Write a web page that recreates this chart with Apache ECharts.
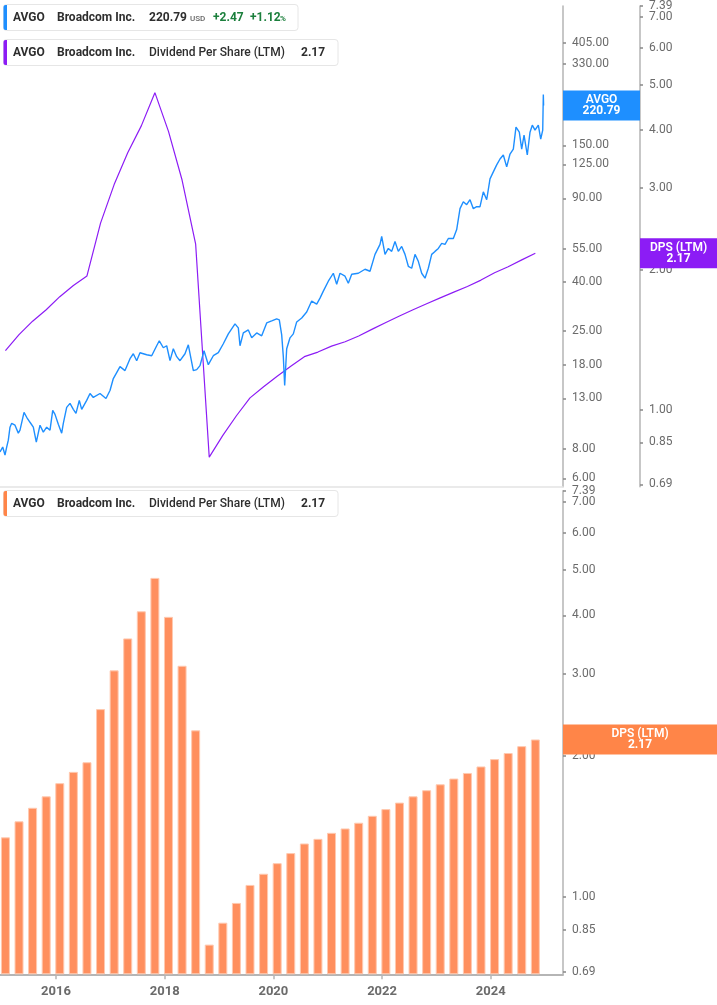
<!DOCTYPE html>
<html>
<head>
<meta charset="utf-8">
<script src="https://cdn.jsdelivr.net/npm/echarts@6/dist/echarts.min.js"></script>
<style>
html,body{margin:0;padding:0;background:#fff;}
#c{width:717px;height:1005px;}
</style>
</head>
<body>
<div id="c"></div>
<script>
// ---------- DATA ----------
const ticker = 'AVGO';
const company = 'Broadcom Inc.';
const priceChange = '+2.47';
const priceChangePct = '+1.12';
const dpsName = 'Dividend Per Share (LTM)';

const priceYears = [2014.970,2015.020,2015.062,2015.093,2015.123,2015.154,2015.185,2015.246,2015.307,2015.338,
2015.412,2015.461,2015.522,2015.583,2015.638,2015.706,2015.767,2015.829,2015.890,2015.940,
2015.982,2016.043,2016.105,2016.135,2016.197,2016.258,2016.319,2016.368,2016.429,2016.473,
2016.565,2016.626,2016.687,2016.810,2016.920,2016.994,2017.055,2017.117,2017.178,2017.270,
2017.362,2017.423,2017.485,2017.546,2017.669,2017.761,2017.853,2017.901,2017.975,2018.037,
2018.098,2018.159,2018.221,2018.282,2018.374,2018.435,2018.527,2018.589,2018.650,2018.724,
2018.803,2018.895,2018.987,2019.079,2019.171,2019.294,2019.355,2019.386,2019.447,2019.539,
2019.601,2019.693,2019.785,2019.877,2019.969,2020.061,2020.109,2020.153,2020.183,2020.208,
2020.245,2020.306,2020.367,2020.429,2020.521,2020.613,2020.705,2020.797,2020.858,2020.919,
2021.011,2021.103,2021.165,2021.226,2021.318,2021.379,2021.441,2021.563,2021.686,2021.778,
2021.870,2021.962,2021.993,2022.054,2022.115,2022.177,2022.238,2022.299,2022.361,2022.422,
2022.483,2022.545,2022.606,2022.667,2022.729,2022.790,2022.851,2022.913,2022.974,2023.035,
2023.097,2023.158,2023.219,2023.311,2023.373,2023.434,2023.495,2023.557,2023.618,2023.679,
2023.741,2023.802,2023.863,2023.925,2023.986,2024.047,2024.109,2024.170,2024.231,2024.293,
2024.354,2024.415,2024.464,2024.525,2024.569,2024.612,2024.672,2024.722,2024.764,2024.814,
2024.875,2024.919,2024.956,2024.967,2024.972];

const priceValues = [7.74,8.12,7.52,8.12,8.68,9.84,10.22,10.03,9.29,9.56,
11.36,10.83,10.32,9.84,8.52,10.03,9.38,9.84,9.56,11.58,
11.14,10.12,9.29,10.22,11.92,12.39,11.69,11.25,12.75,11.69,
12.75,13.63,13.12,13.63,12.99,14.03,15.75,16.69,17.67,17.01,
19.09,20.02,18.72,20.22,19.83,19.64,21.63,22.69,21.21,21.63,
18.72,21.01,19.46,18.72,20.02,21.83,17.01,17.17,17.84,20.61,
18.01,19.64,20.22,22.05,24.26,26.71,25.70,21.63,24.49,25.21,
23.35,24.49,23.80,26.97,27.49,28.03,27.76,24.03,19.46,14.73,
21.01,23.35,24.26,27.23,28.30,29.98,33.32,32.37,34.29,36.68,
40.37,43.60,39.22,43.60,42.37,39.60,43.19,43.60,45.31,44.45,
52.33,57.61,62.21,52.33,55.43,53.86,59.29,53.86,56.51,52.33,
46.64,45.75,52.33,48.93,43.60,41.56,45.75,52.33,53.86,55.43,
58.16,57.61,61.02,61.02,66.54,81.41,87.07,84.60,88.76,81.41,
82.99,82.99,95.85,88.76,108.6,116.2,124.3,131.6,136.8,121.9,
138.1,144.9,179.0,170.6,144.9,165.8,136.8,170.6,182.5,173.9,
182.5,159.5,173.9,245.7,220.79];

const dpsYears = [2015.07,2015.32,2015.57,2015.82,2016.07,2016.32,2016.57,2016.82,
2017.07,2017.32,2017.57,2017.82,2018.07,2018.32,2018.57,2018.82,
2019.07,2019.32,2019.57,2019.82,2020.07,2020.32,2020.57,2020.82,
2021.07,2021.32,2021.57,2021.82,2022.07,2022.32,2022.57,2022.82,
2023.07,2023.32,2023.57,2023.82,2024.07,2024.32,2024.57,2024.82];

const dpsValues = [1.34,1.45,1.55,1.64,1.75,1.85,1.94,2.52,
3.05,3.57,4.08,4.81,3.97,3.12,2.27,0.79,
0.88,0.97,1.06,1.12,1.18,1.24,1.30,1.33,
1.37,1.40,1.44,1.49,1.54,1.59,1.64,1.69,
1.74,1.79,1.84,1.90,1.97,2.03,2.10,2.17];

const priceTicks = [405, 330, 240, 150, 125, 90, 55, 40, 25, 18, 13, 8, 6];
const dpsTicks = [7.39, 7, 6, 5, 4, 3, 2, 1, 0.85, 0.69];
const dpsTopTick = [7.39];
const yearTicks = [2016, 2018, 2020, 2022, 2024];

// ---------- STYLE / SCALE SETUP ----------
const BLUE = '#1E8FFF', PURPLE = '#8C1CF5', ORANGE = '#FF8F5E', ORANGE_BOX = '#FF8548', GREEN = '#1b7f3c';
const FONT = 'Roboto, "Noto Sans", sans-serif';
const X_MIN = 2014.970, X_MAX = 2025.329;
// log scales expressed as shifted natural logs (so bars grow from the axis bottom)
const P_MIN = 1.711, P_MAX = 6.3595;
const D_MIN = -0.382, D_MAX = 2.0002;
const pv = v => Math.log(v) - P_MIN;
const dv = v => Math.log(v) - D_MIN;

const priceData = priceYears.map((t, i) => [t, pv(priceValues[i])]);
const dpsLineData = dpsYears.map((t, i) => [t, dv(dpsValues[i])]);
const dpsBarData = dpsYears.map((t, i) => [t, dv(dpsValues[i])]);

const axisGrey = '#b5b5b5';
const labelGrey = '#6b6b6b';

function yAxisCommon(tickVals, labelVals, toV, fromV, extra) {
  return Object.assign({
    type: 'value',
    position: 'right',
    axisLine: { show: true, lineStyle: { color: axisGrey, width: 1.5 } },
    axisTick: { show: true, customValues: tickVals.map(toV), length: 3, lineStyle: { color: '#888', width: 1.5 } },
    axisLabel: { customValues: labelVals.map(toV), formatter: v => fromV(v).toFixed(2), color: labelGrey, fontSize: 12, fontFamily: FONT, margin: 9, hideOverlap: false },
    splitLine: { show: false }
  }, extra);
}
const dpsMain = dpsTicks.filter(t => dpsTopTick.indexOf(t) < 0);
const dFrom = v => Math.exp(v + D_MIN);
// helper axis carrying only the top (max) label, so it is not dropped next to 7.00
function topLabelAxis(extra) {
  return yAxisCommon([], dpsTopTick, dv, dFrom, Object.assign({
    axisLine: { show: false }, axisTick: { show: false }
  }, extra));
}

const option = {
  animation: false,
  backgroundColor: '#fff',
  grid: [
    { left: 0, right: 154, top: 3, height: 483.7, containLabel: false },
    { left: 0, right: 154, top: 490.7, height: 483.6, containLabel: false }
  ],
  xAxis: [
    { gridIndex: 0, type: 'value', min: X_MIN, max: X_MAX,
      axisLine: { show: true, lineStyle: { color: '#e3e3e3', width: 1.5 } },
      axisTick: { show: false }, axisLabel: { show: false }, splitLine: { show: false } },
    { gridIndex: 1, type: 'value', min: X_MIN, max: X_MAX,
      axisLine: { show: true, lineStyle: { color: axisGrey, width: 2 } },
      axisTick: { show: true, customValues: yearTicks, length: 5, lineStyle: { color: axisGrey, width: 1.5 } },
      axisLabel: { customValues: yearTicks, formatter: v => String(Math.round(v)), color: labelGrey, fontSize: 13, fontWeight: 'bold', fontFamily: FONT, margin: 11 },
      splitLine: { show: false } }
  ],
  yAxis: [
    yAxisCommon(priceTicks, priceTicks, pv, v => Math.exp(v + P_MIN), { gridIndex: 0, min: 0, max: P_MAX - P_MIN }),
    yAxisCommon(dpsTicks, dpsMain, dv, dFrom, { gridIndex: 0, min: 0, max: D_MAX - D_MIN, offset: 77 }),
    yAxisCommon(dpsTicks, dpsMain, dv, dFrom, { gridIndex: 1, min: 0, max: D_MAX - D_MIN }),
    topLabelAxis({ gridIndex: 0, min: 0, max: D_MAX - D_MIN, offset: 77 }),
    topLabelAxis({ gridIndex: 1, min: 0, max: D_MAX - D_MIN })
  ],
  series: [
    { type: 'line', xAxisIndex: 0, yAxisIndex: 0, data: priceData, showSymbol: false, symbol: 'none',
      lineStyle: { color: BLUE, width: 1.4 }, z: 3 },
    { type: 'line', xAxisIndex: 0, yAxisIndex: 1, data: dpsLineData, showSymbol: false, symbol: 'none',
      lineStyle: { color: PURPLE, width: 1.2 }, z: 2 },
    { type: 'bar', xAxisIndex: 1, yAxisIndex: 2, data: dpsBarData, barWidth: 9,
      itemStyle: { color: ORANGE, borderColor: '#ffc9b0', borderWidth: 1 } }
  ]
};

const chart = echarts.init(document.getElementById('c'), null, { renderer: 'canvas', width: 717, height: 1005 });
chart.setOption(option);

// ---------- OVERLAY TEXT (legend boxes and last-value tags) ----------
const lastPrice = priceValues[priceValues.length - 1];
const lastDps = dpsValues[dpsValues.length - 1];
const yPrice = chart.convertToPixel({ yAxisIndex: 0 }, pv(lastPrice));
const yDpsTop = chart.convertToPixel({ yAxisIndex: 1 }, dv(lastDps));
const yDpsBot = chart.convertToPixel({ yAxisIndex: 2 }, dv(lastDps));

function txt(text, x, y, font, fill, align) {
  return { type: 'text', z: 100, style: { text: text, x: x, y: y, font: font, fill: fill, align: align || 'left', verticalAlign: 'middle' } };
}
function legendBox(y, w, color, items) {
  const els = [
    { type: 'rect', z: 99, shape: { x: 3.5, y: y, width: w, height: 26, r: 3 }, style: { fill: '#fff', stroke: '#e6e6e6', lineWidth: 1 } },
    { type: 'rect', z: 100, shape: { x: 3.5, y: y + 0.5, width: 3.5, height: 25, r: [2, 0, 0, 2] }, style: { fill: color } }
  ];
  return els.concat(items);
}
function tag(x, yc, w, color, l1, l2) {
  return [
    { type: 'rect', z: 100, shape: { x: x, y: yc - 15, width: w, height: 30 }, style: { fill: color } },
    txt(l1, x + w / 2, yc - 5.5, '600 12px ' + FONT, '#fff', 'center'),
    txt(l2, x + w / 2, yc + 5.5, '700 12px ' + FONT, '#fff', 'center')
  ];
}

const B = '700 12px ' + FONT;
const dark = '#2e2e2e';
let g = [];
g = g.concat(legendBox(4.5, 294.5, BLUE, [
  txt(ticker, 13, 17.7, B, dark),
  txt(company, 57, 17.7, B, dark),
  txt(lastPrice.toFixed(2), 149, 17.7, B, dark),
  txt('USD', 190, 18.7, '500 8px ' + FONT, '#666'),
  txt(priceChange, 213, 17.7, B, GREEN),
  txt(priceChangePct, 250, 17.7, B, GREEN),
  txt('%', 280, 18.7, '700 8px ' + FONT, GREEN)
]));
g = g.concat(legendBox(39.5, 334.5, PURPLE, [
  txt(ticker, 13, 52.7, B, dark),
  txt(company, 57, 52.7, B, dark),
  txt(dpsName, 149, 52.7, '500 12px ' + FONT, dark),
  txt(lastDps.toFixed(2), 301, 52.7, B, dark)
]));
g = g.concat(legendBox(490.5, 334.5, ORANGE_BOX, [
  txt(ticker, 13, 503.7, B, dark),
  txt(company, 57, 503.7, B, dark),
  txt(dpsName, 149, 503.7, '500 12px ' + FONT, dark),
  txt(lastDps.toFixed(2), 301, 503.7, B, dark)
]));
g = g.concat(tag(563, yPrice, 77, BLUE, ticker, lastPrice.toFixed(2)));
g = g.concat(tag(640, yDpsTop, 77, PURPLE, 'DPS (LTM)', lastDps.toFixed(2)));
g = g.concat(tag(563, yDpsBot, 154, ORANGE_BOX, 'DPS (LTM)', lastDps.toFixed(2)));

chart.setOption({ graphic: g });
</script>
</body>
</html>
